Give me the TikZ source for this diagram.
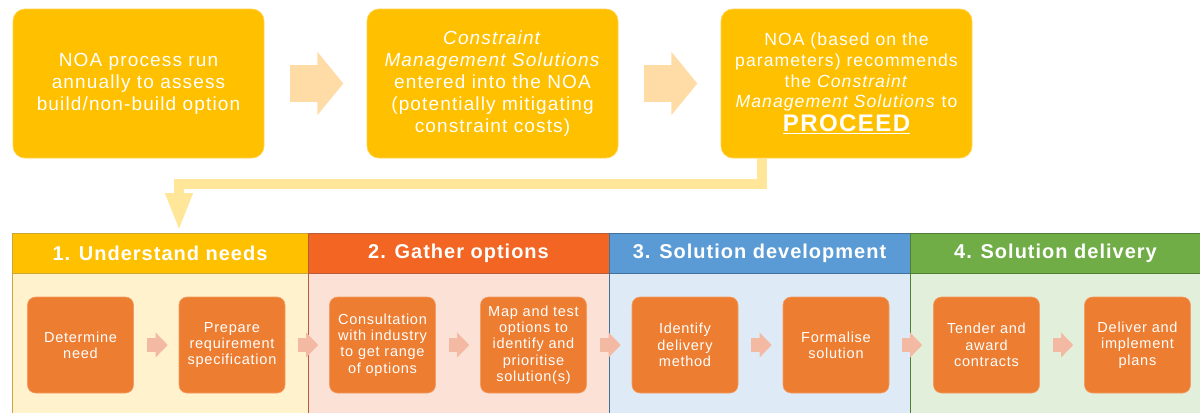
\documentclass[tikz,border=0pt]{standalone}
\usepackage{fontspec}
\setmainfont{Liberation Sans}
\newfontfamily\topfont[LetterSpace=6]{Liberation Sans}
\newfontfamily\hdrfont[LetterSpace=5]{Liberation Sans}
\newfontfamily\smlfont[LetterSpace=5]{Liberation Sans}
\usetikzlibrary{arrows.meta}
\definecolor{topyellow}{HTML}{FFC000}
\definecolor{bigarrowc}{HTML}{FFDBA6}
\definecolor{connc}{HTML}{FFE699}
\definecolor{hdrA}{HTML}{FFC000}\definecolor{bodyA}{HTML}{FFF2CC}\definecolor{brdA}{HTML}{C9A63A}
\definecolor{hdrB}{HTML}{F26522}\definecolor{bodyB}{HTML}{FBE1D6}\definecolor{brdB}{HTML}{B85C3A}
\definecolor{hdrC}{HTML}{5B9BD5}\definecolor{bodyC}{HTML}{DEEBF7}\definecolor{brdC}{HTML}{41719C}
\definecolor{hdrD}{HTML}{70AD47}\definecolor{bodyD}{HTML}{E2EFDA}\definecolor{brdD}{HTML}{507E32}
\definecolor{innerc}{HTML}{ED7D31}
\definecolor{smarrowc}{HTML}{F4B9A2}
\tikzset{
  topbox/.style={rectangle, rounded corners=9pt, fill=topyellow, draw=topyellow!70!white, line width=0.5pt,
    minimum width=188.25pt, minimum height=111.75pt, inner sep=0pt, align=center, text=white,
    font=\topfont\fontsize{14.25}{16.5}\selectfont},
  hdrbox/.style={rectangle, minimum height=30pt, inner sep=0pt, outer sep=0pt, line width=0.75pt,
    text=white, font=\hdrfont\bfseries\fontsize{15}{17}\selectfont},
  bodybox/.style={rectangle, minimum height=105pt, inner sep=0pt, outer sep=0pt, line width=0.75pt},
  stepbox/.style={rectangle, rounded corners=6pt, fill=innerc, draw=innerc!75!white, line width=0.4pt,
    minimum width=79.5pt, minimum height=72pt, inner sep=0pt, align=center, text=white,
    font=\smlfont\fontsize{10.9}{12.2}\selectfont},
  bigarrow/.style={draw=bigarrowc, line width=27.75pt, -{Triangle[width=46.5pt,length=19.5pt]},
    shorten <=19.5pt, shorten >=17.5pt},
  smarrow/.style={draw=smarrowc, line width=10.5pt, -{Triangle[width=18pt,length=9pt]},
    shorten <=9.75pt, shorten >=8.25pt},
  connline/.style={draw=connc, line width=7.5pt, -{Triangle[width=18.75pt,length=28.5pt]}, shorten >=1.5pt}
}
\begin{document}
\begin{tikzpicture}[x=0.75pt,y=-0.75pt]
\useasboundingbox (0,0) rectangle (1200,412);
% phase bodies
\node[bodybox, fill=bodyA, draw=brdA, minimum width=222pt] (b1) at (160,343) {};
\node[bodybox, fill=bodyB, draw=brdB, minimum width=225.75pt] (b2) at (458.5,343) {};
\node[bodybox, fill=bodyC, draw=brdC, minimum width=225.75pt] (b3) at (759.5,343) {};
\node[bodybox, fill=bodyD, draw=brdD, minimum width=218.25pt] (b4) at (1055.5,343) {};
% headers
\node[hdrbox, fill=hdrA, draw=brdA, minimum width=222pt] (h1) at (160,253) {1. Understand needs};
\node[hdrbox, fill=hdrB, draw=brdB, minimum width=225.75pt] (h2) at (458.5,253) {2. Gather options};
\node[hdrbox, fill=hdrC, draw=brdC, minimum width=225.75pt] (h3) at (759.5,253) {3. Solution development};
\node[hdrbox, fill=hdrD, draw=brdD, minimum width=218.25pt] (h4) at (1055.5,253) {4. Solution delivery};
% top boxes
\node[topbox] (t1) at (138.5,83.5) {NOA process run\\annually to assess\\build/non-build option};
\node[topbox] (t2) at (492.5,83.5) {\textit{Constraint}\\\textit{Management Solutions}\\entered into the NOA\\(potentially mitigating\\constraint costs)};
\node[topbox, font=\topfont\fontsize{13.2}{15.6}\selectfont] (t3) at (846.5,83.5) {NOA (based on the\\parameters) recommends\\the \textit{Constraint}\\\textit{Management Solutions} to\\[2pt]{\bfseries\fontsize{18}{20}\selectfont\underline{PROCEED}}};
% inner step boxes
\node[stepbox] (s1) at (80.5,345) {Determine\\need};
\node[stepbox] (s2) at (232,345) {Prepare\\requirement\\specification};
\node[stepbox] (s3) at (382.5,345) {Consultation\\with industry\\to get range\\of options};
\node[stepbox] (s4) at (533.5,345) {Map and test\\options to\\identify and\\prioritise\\solution(s)};
\node[stepbox] (s5) at (685,345) {Identify\\delivery\\method};
\node[stepbox] (s6) at (836,345) {Formalise\\solution};
\node[stepbox] (s7) at (986.5,345) {Tender and\\award\\contracts};
\node[stepbox] (s8) at (1137.5,345) {Deliver and\\implement\\plans};
% big arrows
\draw[bigarrow] (t1) -- (t2);
\draw[bigarrow] (t2) -- (t3);
% connector from t3 down to phase 1
\draw[connline] ([xshift=-63.375pt]t3.south) -- ++(0,26) -| ([xshift=14.25pt]h1.north);
% small arrows
\draw[smarrow] (s1) -- (s2);
\draw[smarrow] (s2) -- (s3);
\draw[smarrow] (s3) -- (s4);
\draw[smarrow] (s4) -- (s5);
\draw[smarrow] (s5) -- (s6);
\draw[smarrow] (s6) -- (s7);
\draw[smarrow] (s7) -- (s8);
\end{tikzpicture}
\end{document}
